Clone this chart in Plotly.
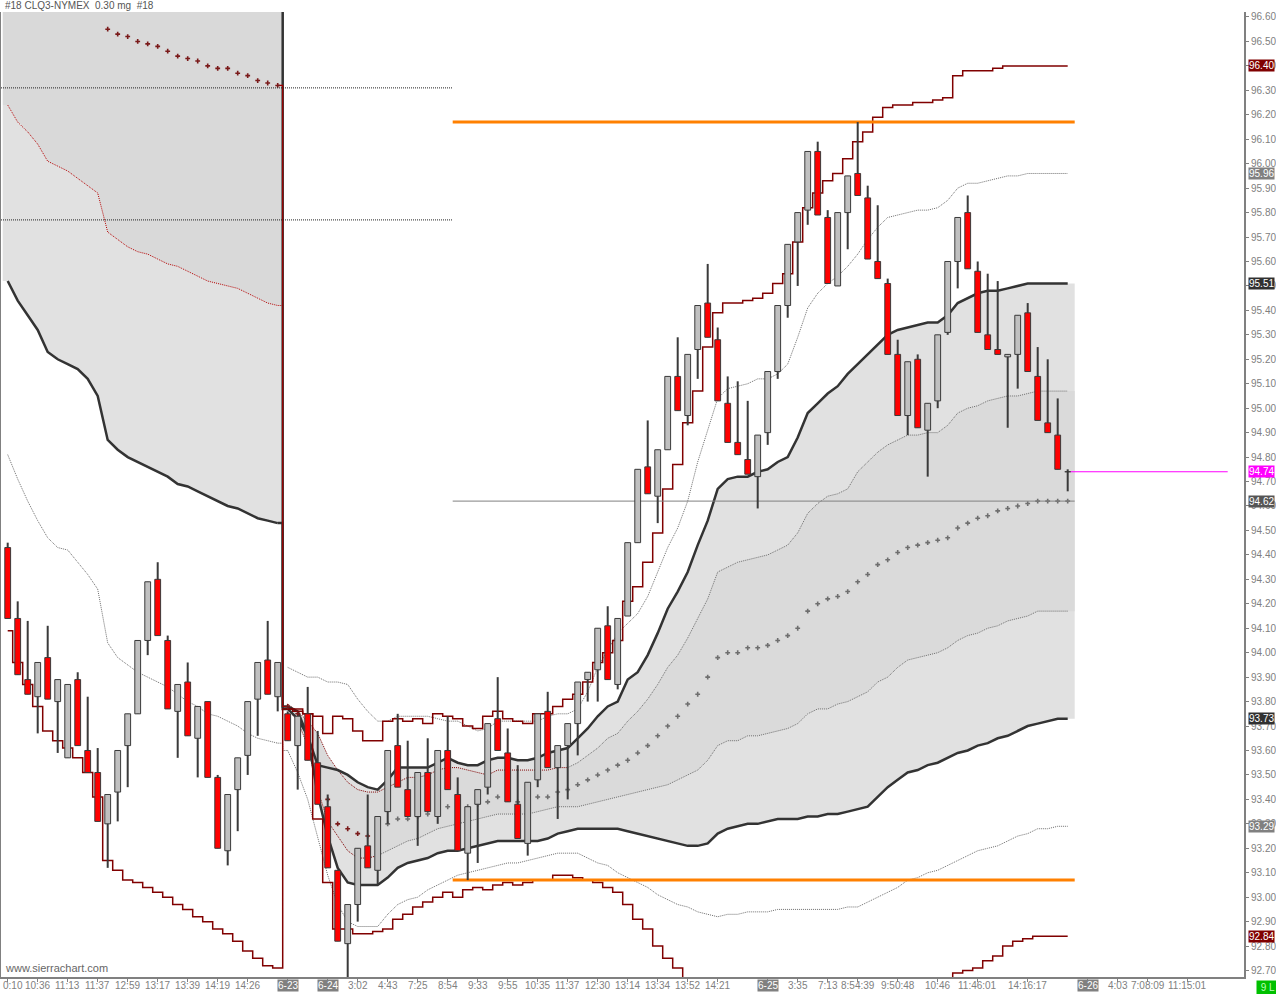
import plotly.graph_objects as go

TITLE = "#18 CLQ3-NYMEX  0.30 mg  #18"
FONT = "Liberation Sans, Arial, sans-serif"

# ---------------- OHLC (one bar per index) ----------------
opens = [94.43, 94.14, 93.89, 93.82, 93.98, 93.80, 93.57, 93.89, 93.60, 93.51,
         93.30, 93.43, 93.62, 93.75, 94.05, 94.30, 94.05, 93.76, 93.88, 93.65,
         93.80, 93.49, 93.19, 93.44, 93.58, 93.81, 93.97, 93.82, 93.75, 93.62,
         93.75, 93.55, 93.37, 93.11, 92.81, 92.97, 93.21, 93.11, 93.35, 93.62,
         93.44, 93.33, 93.51, 93.33, 93.60, 93.42, 93.18, 93.38, 93.45, 93.73,
         93.59, 93.38, 93.22, 93.48, 93.76, 93.53, 93.62, 93.71, 93.89, 93.93,
         94.11, 93.87, 94.15, 94.45, 94.76, 94.64, 94.83, 95.13, 94.97, 95.24,
         95.43, 95.28, 95.02, 94.86, 94.79, 94.72, 94.90, 95.15, 95.42, 95.68,
         95.81, 96.05, 95.78, 95.50, 95.80, 95.96, 95.86, 95.60, 95.51, 95.22,
         94.97, 95.20, 94.91, 95.03, 95.31, 95.60, 95.80, 95.56, 95.30, 95.24,
         95.21, 95.22, 95.39, 95.13, 94.94, 94.89, 94.74]
highs = [94.45, 94.21, 94.13, 93.96, 94.11, 93.89, 93.87, 93.92, 93.82, 93.61,
         93.42, 93.60, 93.75, 94.05, 94.29, 94.37, 94.07, 93.87, 93.96, 93.78,
         93.80, 93.50, 93.42, 93.57, 93.80, 93.96, 94.13, 93.96, 93.76, 93.74,
         93.86, 93.68, 93.42, 93.11, 92.97, 93.20, 93.42, 93.33, 93.60, 93.75,
         93.64, 93.51, 93.65, 93.60, 93.74, 93.49, 93.37, 93.44, 93.71, 93.90,
         93.69, 93.54, 93.47, 93.75, 93.84, 93.62, 93.71, 93.88, 93.92, 94.10,
         94.19, 94.14, 94.45, 94.75, 94.95, 94.83, 95.13, 95.29, 95.22, 95.42,
         95.59, 95.33, 95.13, 95.11, 95.03, 94.89, 95.15, 95.42, 95.67, 95.80,
         96.05, 96.09, 95.81, 95.80, 95.95, 96.17, 95.91, 95.83, 95.53, 95.28,
         95.19, 95.22, 95.02, 95.30, 95.60, 95.78, 95.87, 95.60, 95.55, 95.52,
         95.22, 95.38, 95.43, 95.25, 95.20, 95.04, 94.75]
lows = [94.14, 93.91, 93.83, 93.67, 93.81, 93.59, 93.57, 93.62, 93.51, 93.31,
        93.12, 93.31, 93.45, 93.75, 93.99, 94.07, 93.77, 93.57, 93.66, 93.49,
        93.49, 93.20, 93.13, 93.27, 93.50, 93.66, 93.83, 93.76, 93.64, 93.44,
        93.56, 93.38, 93.12, 92.82, 92.67, 92.90, 93.12, 93.05, 93.30, 93.45,
        93.33, 93.21, 93.35, 93.30, 93.44, 93.19, 93.07, 93.14, 93.42, 93.60,
        93.39, 93.24, 93.17, 93.45, 93.53, 93.32, 93.40, 93.58, 93.80, 93.80,
        93.89, 93.85, 94.15, 94.45, 94.65, 94.53, 94.83, 94.99, 94.93, 95.12,
        95.29, 95.03, 94.86, 94.81, 94.73, 94.59, 94.85, 95.12, 95.37, 95.50,
        95.75, 95.79, 95.51, 95.50, 95.65, 95.87, 95.61, 95.53, 95.22, 94.97,
        94.89, 94.92, 94.72, 95.00, 95.30, 95.49, 95.57, 95.31, 95.24, 95.22,
        94.92, 95.08, 95.15, 94.95, 94.90, 94.75, 94.66]
closes = [94.14, 93.91, 93.83, 93.96, 93.81, 93.89, 93.87, 93.62, 93.51, 93.31,
          93.42, 93.60, 93.75, 94.05, 94.29, 94.07, 93.77, 93.87, 93.66, 93.78,
          93.49, 93.20, 93.42, 93.57, 93.80, 93.96, 93.83, 93.96, 93.64, 93.74,
          93.56, 93.38, 93.12, 92.82, 92.97, 93.20, 93.12, 93.33, 93.60, 93.45,
          93.33, 93.51, 93.35, 93.60, 93.44, 93.19, 93.37, 93.44, 93.71, 93.60,
          93.39, 93.24, 93.47, 93.75, 93.53, 93.62, 93.71, 93.88, 93.92, 94.10,
          93.89, 94.14, 94.45, 94.75, 94.65, 94.83, 95.13, 94.99, 95.22, 95.42,
          95.29, 95.03, 94.86, 94.81, 94.73, 94.89, 95.15, 95.42, 95.67, 95.80,
          96.05, 95.79, 95.51, 95.80, 95.95, 95.87, 95.61, 95.53, 95.22, 94.97,
          95.19, 94.92, 95.02, 95.30, 95.60, 95.78, 95.57, 95.31, 95.24, 95.22,
          95.22, 95.38, 95.15, 94.95, 94.90, 94.75, 94.74]

# ---------------- x-axis labels (bar index -> text) ----------------
tick_bars = [0, 3, 6, 9, 12, 15, 18, 21, 24, 28, 32, 35, 38, 41, 44, 47, 50, 53, 56, 59,
             62, 65, 68, 71, 76, 79, 82, 85, 89, 93, 97, 102, 108, 111, 114, 118]
tick_labels = ["0:10", "10:36", "11:13", "11:37", "12:59", "13:17", "13:39", "14:19", "14:26", "6-23",
               "6-24", "3:02", "4:43", "7:25", "8:54", "9:33", "9:55", "10:35", "11:37", "12:30",
               "13:14", "13:34", "13:52", "14:21", "6-25", "3:35", "7:13", "8:54:39", "9:50:48", "10:46",
               "11:46:01", "14:16:17", "6-26", "4:03", "7:08:09", "11:15:01"]
date_labels = {"6-23", "6-24", "6-25", "6-26"}

# ---------------- previous session bands (bars 0..27) ----------------
left_minus1 = [96.24, 96.17, 96.13, 96.08, 96.01, 95.99, 95.97, 95.94, 95.91, 95.88,
               95.72, 95.69, 95.66, 95.64, 95.63, 95.61, 95.59, 95.58, 95.56, 95.54,
               95.52, 95.51, 95.50, 95.49, 95.47, 95.45, 95.43, 95.42]
left_minus2 = [95.52, 95.44, 95.38, 95.32, 95.23, 95.20, 95.18, 95.16, 95.12, 95.05,
               94.87, 94.83, 94.80, 94.78, 94.76, 94.74, 94.72, 94.69, 94.68, 94.66,
               94.64, 94.62, 94.60, 94.59, 94.57, 94.55, 94.54, 94.53]
left_minus3 = [94.81, 94.71, 94.62, 94.54, 94.47, 94.43, 94.42, 94.37, 94.32, 94.26,
               94.04, 93.98, 93.95, 93.92, 93.90, 93.88, 93.86, 93.83, 93.80, 93.78,
               93.75, 93.74, 93.72, 93.70, 93.67, 93.65, 93.64, 93.63]
left_minus4 = [94.09, 93.96, 93.87, 93.78, 93.68, 93.64, 93.61, 93.57, 93.51, 93.41,
               93.15, 93.11, 93.07, 93.06, 93.04, 93.02, 93.00, 92.97, 92.95, 92.92,
               92.90, 92.87, 92.85, 92.82, 92.78, 92.75, 92.72, 92.71]
left_vwap_first_bar = 10
left_vwap = [96.55, 96.53, 96.52, 96.50, 96.49, 96.48, 96.46, 96.44, 96.43, 96.42,
             96.40, 96.39, 96.39, 96.37, 96.36, 96.34, 96.33, 96.32]
left_plus2_last = 98.1   # above the visible range

# ---------------- current session bands (bars 28..106) ----------------
r_plus4 = [93.77, 93.77, 93.75, 93.74, 93.67, 93.74, 93.73, 93.68, 93.64, 93.64,
           93.72, 93.73, 93.72, 93.73, 93.71, 93.75, 93.74, 93.73, 93.70, 93.69,
           93.74, 93.76, 93.73, 93.72, 93.71, 93.75, 93.75, 93.78, 93.81, 93.83,
           93.88, 93.96, 94.00, 94.05, 94.21, 94.27, 94.37, 94.49, 94.67, 94.77,
           94.94, 95.07, 95.25, 95.39, 95.43, 95.43, 95.44, 95.45, 95.47, 95.51,
           95.55, 95.68, 95.82, 95.88, 95.93, 95.96, 96.02, 96.09, 96.13, 96.19,
           96.23, 96.24, 96.24, 96.25, 96.25, 96.26, 96.27, 96.36, 96.38, 96.38,
           96.38, 96.39, 96.40, 96.40, 96.40, 96.40, 96.40, 96.40, 96.40]
r_plus3 = [93.94, 93.92, 93.90, 93.90, 93.88, 93.88, 93.87, 93.81, 93.76, 93.72,
           93.72, 93.74, 93.74, 93.74, 93.74, 93.73, 93.72, 93.72, 93.70, 93.68,
           93.69, 93.72, 93.72, 93.72, 93.72, 93.72, 93.74, 93.75, 93.75, 93.77,
           93.84, 93.94, 94.01, 94.08, 94.12, 94.16, 94.23, 94.33, 94.43, 94.51,
           94.62, 94.78, 94.91, 95.04, 95.08, 95.09, 95.10, 95.12, 95.12, 95.14,
           95.18, 95.29, 95.41, 95.47, 95.51, 95.54, 95.58, 95.63, 95.69, 95.74,
           95.78, 95.79, 95.80, 95.81, 95.81, 95.82, 95.85, 95.90, 95.92, 95.92,
           95.93, 95.94, 95.95, 95.95, 95.96, 95.96, 95.96, 95.96, 95.96]
r_plus2 = [93.78, 93.76, 93.66, 93.54, 93.53, 93.52, 93.50, 93.47, 93.45, 93.44,
           93.48, 93.53, 93.53, 93.53, 93.53, 93.55, 93.57, 93.55, 93.54, 93.54,
           93.56, 93.57, 93.57, 93.56, 93.56, 93.57, 93.59, 93.60, 93.61, 93.65,
           93.69, 93.74, 93.78, 93.80, 93.89, 93.92, 93.99, 94.08, 94.18, 94.25,
           94.33, 94.44, 94.54, 94.67, 94.71, 94.72, 94.72, 94.74, 94.75, 94.78,
           94.80, 94.88, 94.98, 95.02, 95.06, 95.09, 95.14, 95.18, 95.22, 95.26,
           95.30, 95.32, 95.33, 95.34, 95.35, 95.35, 95.38, 95.43, 95.45, 95.47,
           95.48, 95.48, 95.49, 95.50, 95.51, 95.51, 95.51, 95.51, 95.51]
r_plus1 = [93.79, 93.76, 93.72, 93.67, 93.58, 93.52, 93.47, 93.44, 93.43, 93.43,
           93.45, 93.47, 93.49, 93.49, 93.50, 93.52, 93.53, 93.53, 93.52, 93.51,
           93.50, 93.52, 93.52, 93.52, 93.52, 93.52, 93.52, 93.53, 93.53, 93.55,
           93.58, 93.61, 93.65, 93.67, 93.72, 93.76, 93.81, 93.87, 93.94, 93.99,
           94.06, 94.14, 94.22, 94.33, 94.35, 94.37, 94.38, 94.39, 94.40, 94.42,
           94.44, 94.49, 94.57, 94.61, 94.64, 94.65, 94.67, 94.74, 94.78, 94.82,
           94.85, 94.87, 94.89, 94.89, 94.90, 94.90, 94.93, 94.98, 95.00, 95.01,
           95.03, 95.04, 95.05, 95.05, 95.06, 95.07, 95.07, 95.07, 95.07]
r_vwap = [93.78, 93.75, 93.66, 93.49, 93.40, 93.30, 93.28, 93.26, 93.25, 93.25,
          93.30, 93.32, 93.32, 93.33, 93.34, 93.36, 93.37, 93.37, 93.37, 93.38,
          93.39, 93.41, 93.40, 93.39, 93.40, 93.41, 93.41, 93.43, 93.44, 93.46,
          93.48, 93.50, 93.52, 93.54, 93.56, 93.59, 93.62, 93.66, 93.70, 93.74,
          93.79, 93.83, 93.90, 93.98, 94.00, 94.00, 94.02, 94.02, 94.03, 94.05,
          94.07, 94.10, 94.17, 94.20, 94.22, 94.23, 94.25, 94.29, 94.32, 94.36,
          94.38, 94.41, 94.43, 94.44, 94.45, 94.46, 94.47, 94.51, 94.53, 94.55,
          94.56, 94.58, 94.59, 94.60, 94.61, 94.62, 94.62, 94.62, 94.62]
r_minus1 = [93.77, 93.72, 93.62, 93.44, 93.31, 93.25, 93.19, 93.16, 93.16, 93.17,
            93.19, 93.21, 93.23, 93.24, 93.26, 93.28, 93.29, 93.30, 93.31, 93.32,
            93.33, 93.34, 93.34, 93.34, 93.34, 93.35, 93.36, 93.37, 93.37, 93.37,
            93.38, 93.39, 93.40, 93.41, 93.42, 93.43, 93.44, 93.45, 93.46, 93.48,
            93.50, 93.52, 93.56, 93.62, 93.64, 93.64, 93.66, 93.66, 93.67, 93.68,
            93.69, 93.71, 93.75, 93.77, 93.77, 93.79, 93.80, 93.82, 93.84, 93.88,
            93.90, 93.94, 93.97, 93.98, 93.99, 94.00, 94.02, 94.05, 94.07, 94.08,
            94.10, 94.11, 94.13, 94.14, 94.15, 94.17, 94.17, 94.17, 94.17]
r_minus2 = [93.77, 93.73, 93.66, 93.42, 93.25, 93.12, 93.06, 93.05, 93.05, 93.05,
            93.08, 93.12, 93.14, 93.15, 93.16, 93.18, 93.19, 93.19, 93.20, 93.21,
            93.22, 93.23, 93.23, 93.23, 93.23, 93.23, 93.24, 93.26, 93.27, 93.28,
            93.28, 93.28, 93.28, 93.28, 93.27, 93.26, 93.25, 93.24, 93.23, 93.22,
            93.21, 93.21, 93.22, 93.26, 93.28, 93.29, 93.30, 93.30, 93.31, 93.32,
            93.32, 93.32, 93.33, 93.33, 93.34, 93.34, 93.35, 93.36, 93.37, 93.41,
            93.45, 93.48, 93.51, 93.52, 93.54, 93.55, 93.57, 93.59, 93.60, 93.62,
            93.63, 93.65, 93.66, 93.68, 93.70, 93.71, 93.72, 93.73, 93.73]
r_minus3 = [93.60, 93.51, 93.40, 93.24, 93.09, 92.97, 92.90, 92.88, 92.88, 92.88,
            92.93, 92.97, 92.99, 93.00, 93.03, 93.05, 93.07, 93.09, 93.10, 93.11,
            93.12, 93.13, 93.14, 93.14, 93.15, 93.16, 93.17, 93.18, 93.18, 93.18,
            93.16, 93.14, 93.13, 93.10, 93.08, 93.06, 93.04, 93.01, 92.99, 92.97,
            92.96, 92.94, 92.93, 92.92, 92.93, 92.93, 92.94, 92.94, 92.94, 92.95,
            92.95, 92.95, 92.95, 92.95, 92.95, 92.95, 92.96, 92.96, 92.98, 93.00,
            93.02, 93.04, 93.07, 93.08, 93.10, 93.11, 93.13, 93.15, 93.17, 93.19,
            93.20, 93.21, 93.23, 93.25, 93.26, 93.28, 93.28, 93.29, 93.29]
N_ = None
r_minus4 = [93.77, 93.76, 93.75, 93.32, 93.06, 92.87, 92.87, 92.85, 92.85, 92.86,
            92.87, 92.91, 92.93, 92.96, 92.98, 93.00, 93.02, 93.00, 93.03, 93.04,
            93.03, 93.05, 93.06, 93.05, 93.06, 93.07, 93.07, 93.09, 93.09, 93.08,
            93.07, 93.06, 93.04, 93.02, 92.97, 92.91, 92.87, 92.80, 92.75, 92.71,
            92.60, N_, N_, N_, N_, N_, N_, N_, N_, N_,
            N_, N_, N_, N_, N_, N_, N_, N_, N_, N_,
            N_, N_, N_, N_, N_, 92.60, 92.67, 92.69, 92.70, 92.71,
            92.74, 92.76, 92.80, 92.82, 92.83, 92.84, 92.84, 92.84, 92.84]

prior_levels = [96.31, 95.77]

# ---------------- structure ----------------
n = len(opens)
bars = list(range(n))
SESSION_START = 28            # first bar of the new session
DAY_START = 45                # first bar of the day session (high/low lines)
PLUS1_GRAY_FROM = 56
MINUS1_GRAY_FROM = 37
VWAP_GRAY_FROM = 38
left_bars = list(range(SESSION_START))
right_bars = list(range(SESSION_START, n))

X_MIN, X_MAX = -0.67, 123.63
Y_MIN, Y_MAX = 92.6736, 96.6204

MAROON = "#800000"
DARK = "#333333"
GRAYDOT = "#6e6e6e"
DOT = "1px,1px"

fig = go.Figure()


def sc(x, y, **kw):
    fig.add_trace(go.Scatter(x=x, y=y, hoverinfo="skip", showlegend=False, **kw))


# ---- fills (each band area spans its bars' full width) ----
def padded(xs, ys, left_pad, right_pad):
    return [xs[0] - left_pad] + list(xs) + [xs[-1] + right_pad], [ys[0]] + list(ys) + [ys[-1]]


lx, ltop = padded(left_bars, [Y_MAX + 1] * len(left_bars), 0.5, 0.5)
_, lm1 = padded(left_bars, left_minus1, 0.5, 0.5)
_, lm2 = padded(left_bars, left_minus2, 0.5, 0.5)
rx, rp2 = padded(right_bars, r_plus2, 0.0, 0.7)
_, rm2 = padded(right_bars, r_minus2, 0.0, 0.7)
_, rp1 = padded(right_bars, r_plus1, 0.0, 0.7)
_, rm1 = padded(right_bars, r_minus1, 0.0, 0.7)
sc(lx, ltop, mode="lines", line=dict(width=0))
sc(lx, lm1, mode="lines", line=dict(width=0), fill="tonexty", fillcolor="#d9d9d9")
sc(lx, lm2, mode="lines", line=dict(width=0), fill="tonexty", fillcolor="#e1e1e1")
sc(rx, rp2, mode="lines", line=dict(width=0))
sc(rx, rm2, mode="lines", line=dict(width=0), fill="tonexty", fillcolor="#e1e1e1")
sc(rx, rp1, mode="lines", line=dict(width=0))
sc(rx, rm1, mode="lines", line=dict(width=0), fill="tonexty", fillcolor="#dadada")


# ---- band lines ----
def connector(a, b, color, width, dash=None):
    sc([SESSION_START - 1, SESSION_START], [a, b], mode="lines",
       line=dict(color=color, width=width, dash=dash, shape="hvh"))


# +-3 sigma
sc(left_bars, left_minus3, mode="lines", line=dict(color=GRAYDOT, width=1, dash=DOT))
sc(right_bars, r_minus3, mode="lines", line=dict(color=GRAYDOT, width=1, dash=DOT))
connector(left_minus3[-1], r_minus3[0], GRAYDOT, 1, DOT)
sc(right_bars, r_plus3, mode="lines", line=dict(color=GRAYDOT, width=1, dash=DOT))

# +-1 sigma
k = MINUS1_GRAY_FROM - SESSION_START
sc(left_bars, left_minus1, mode="lines", line=dict(color="#b00000", width=1, dash=DOT))
connector(left_minus1[-1], r_minus1[0], "#b00000", 1, DOT)
sc(right_bars[:k + 1], r_minus1[:k + 1], mode="lines", line=dict(color=MAROON, width=1, dash=DOT))
sc(right_bars[k:], r_minus1[k:], mode="lines", line=dict(color=GRAYDOT, width=1, dash=DOT))
k = PLUS1_GRAY_FROM - SESSION_START
sc(right_bars[:k + 1], r_plus1[:k + 1], mode="lines", line=dict(color=MAROON, width=1, dash=DOT))
sc(right_bars[k:], r_plus1[k:], mode="lines", line=dict(color=GRAYDOT, width=1, dash=DOT))

# +-2 sigma (thick)
sc(left_bars, left_minus2, mode="lines", line=dict(color=DARK, width=2.5))
sc(right_bars, r_minus2, mode="lines", line=dict(color=DARK, width=2.5))
connector(left_minus2[-1], r_minus2[0], DARK, 2.5)
sc(right_bars, r_plus2, mode="lines", line=dict(color=DARK, width=2.5))
connector(left_plus2_last, r_plus2[0], DARK, 2.5)

# +-4 sigma step lines
sc(bars, left_minus4 + r_minus4, mode="lines", connectgaps=False,
   line=dict(color=MAROON, width=1.5, shape="hvh"))
sc(right_bars, r_plus4, mode="lines", line=dict(color=MAROON, width=1.5, shape="hvh"))

# VWAP
lv_bars = list(range(left_vwap_first_bar, SESSION_START))
connector(left_vwap[-1], r_vwap[0], "#a00000", 1.2)
k = VWAP_GRAY_FROM - SESSION_START
sc(lv_bars + right_bars[:k], left_vwap + r_vwap[:k], mode="markers",
   marker=dict(symbol="cross", size=4, color="#7a1a1a", line=dict(width=0)))
sc(right_bars[k:], r_vwap[k:], mode="markers",
   marker=dict(symbol="cross", size=4, color="#6e6e6e", line=dict(width=0)))

# ---- horizontal levels ----
for lv in prior_levels:
    sc([X_MIN, DAY_START - 0.5], [lv, lv], mode="lines", line=dict(color="#222222", width=1, dash=DOT))
day_high = max(highs[DAY_START:])
day_low = min(lows[DAY_START:])
for lv in (day_high, day_low):
    sc([DAY_START - 0.5, n - 1 + 0.7], [lv, lv], mode="lines", line=dict(color="#ff8000", width=3))
sc([DAY_START - 0.5, n - 1 + 0.7], [r_vwap[-1], r_vwap[-1]], mode="lines",
   line=dict(color="#808080", width=1))
sc([n - 1 + 0.25, n - 1 + 16], [closes[-1], closes[-1]], mode="lines",
   line=dict(color="#ff00ff", width=1))

# ---- candles (overlay axes so they sit above fills/lines) ----
body_base = [min(o, c) for o, c in zip(opens, closes)]
body_h = [abs(c - o) for o, c in zip(opens, closes)]
body_col = ["#ff0000" if c < o else "#c0c0c0" for o, c in zip(opens, closes)]
fig.add_trace(go.Bar(x=bars, y=[h - l for h, l in zip(highs, lows)], base=lows, width=0.2,
                     marker=dict(color="#3a3a3a", line=dict(width=0)),
                     xaxis="x2", yaxis="y2", hoverinfo="skip", showlegend=False))
fig.add_trace(go.Bar(x=bars, y=body_h, base=body_base, width=0.58,
                     marker=dict(color=body_col, line=dict(color="#3a3a3a", width=1)),
                     xaxis="x2", yaxis="y2", hoverinfo="skip", showlegend=False))

# ---- annotations ----
ann = []
ann.append(dict(x=0, y=1, xref="paper", yref="paper", xanchor="left", yanchor="bottom",
                text=TITLE, showarrow=False, xshift=2, yshift=-1,
                font=dict(family=FONT, size=10, color="#555555")))
ann.append(dict(x=0, y=0, xref="paper", yref="paper", xanchor="left", yanchor="bottom",
                text="www.sierrachart.com", showarrow=False, xshift=2, yshift=1,
                font=dict(family=FONT, size=11, color="#666666")))
for i, (b, t) in enumerate(zip(tick_bars, tick_labels)):
    is_date = t in date_labels
    a = dict(x=b, y=0, xref="x", yref="paper", xanchor="center", yanchor="top",
             text=t, showarrow=False, yshift=-2, borderpad=0,
             font=dict(family=FONT, size=10, color="#ffffff" if is_date else "#808080"))
    if is_date:
        a["bgcolor"] = "#808080"
    if i == 0:
        a["xanchor"] = "left"
        a["xshift"] = -6
    ann.append(a)
value_tags = [(r_plus4[-1], MAROON), (r_plus3[-1], "#808080"), (r_plus2[-1], "#303030"),
              (closes[-1], "#ff00ff"), (r_vwap[-1], "#555555"), (r_minus2[-1], "#303030"),
              (r_minus3[-1], "#808080"), (r_minus4[-1], MAROON)]
for v, col in value_tags:
    ann.append(dict(x=1, y=v, xref="paper", yref="y", xanchor="left", yanchor="middle",
                    text=f"{v:.2f}", showarrow=False, xshift=4, bgcolor=col, borderpad=0,
                    font=dict(family=FONT, size=10, color="#ffffff")))
ann.append(dict(x=1, y=0, xref="paper", yref="paper", xanchor="left", yanchor="top",
                text=" 9 L ", showarrow=False, xshift=12, yshift=-3, bgcolor="#00c000", borderpad=1,
                font=dict(family=FONT, size=10, color="#b8ffb8")))

fig.update_layout(
    template="none",
    width=1276, height=994,
    margin=dict(l=1, r=32, t=12, b=17, autoexpand=False),
    paper_bgcolor="#ffffff", plot_bgcolor="#ffffff",
    barmode="overlay", showlegend=False,
    font=dict(family=FONT, size=10, color="#808080"),
    xaxis=dict(range=[X_MIN, X_MAX], tickvals=tick_bars, automargin=False,
               ticktext=[""] * len(tick_bars),
               ticks="outside", ticklen=3, tickcolor="#808080",
               showline=True, linecolor="#808080", linewidth=2,
               showgrid=False, zeroline=False),
    yaxis=dict(range=[Y_MIN, Y_MAX], side="right", tick0=92.7, dtick=0.1, tickformat=".2f",
               tickmode="linear", automargin=False,
               ticks="outside", ticklen=3, tickcolor="#808080",
               showline=True, linecolor="#808080", linewidth=2, mirror=True,
               showgrid=False, zeroline=False,
               tickfont=dict(family=FONT, size=10, color="#808080")),
    xaxis2=dict(range=[X_MIN, X_MAX], overlaying="x", visible=False, automargin=False),
    yaxis2=dict(range=[Y_MIN, Y_MAX], overlaying="y", side="right", visible=False, automargin=False),
    annotations=ann,
)

fig.write_html("out.html", config={"displayModeBar": False},
               post_script="document.body.style.margin='0';document.body.style.overflow='hidden';")
